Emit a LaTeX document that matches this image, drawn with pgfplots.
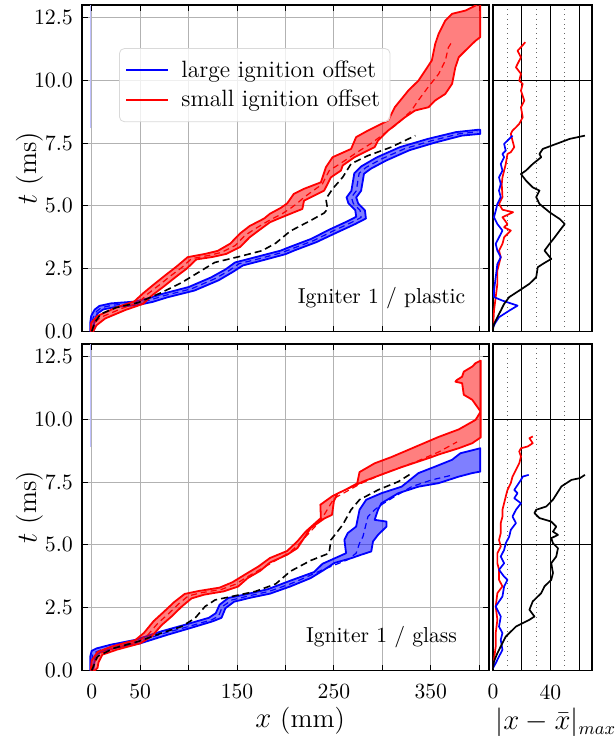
\documentclass[border=0pt]{standalone}
\usepackage{pgfplots}
\pgfplotsset{compat=1.18}
\usepackage{pgfplotstable}

% ---------------- Igniter 1 / plastic ----------------
% flame-front envelope (left edge upwards, right edge downwards)
\pgfplotstableread{
x t
-1.5 0
-1.5 0.35
-0.5 0.62
3 0.87
8 1.02
20 1.12
44 1.19
58 1.32
73 1.5
100 1.77
123 2.15
138 2.47
148 2.75
170 2.97
195 3.22
204 3.36
226 3.68
246 4.07
264 4.39
273 4.57
272 4.83
265 5.1
263 5.34
268 5.6
271 6.3
278 6.57
294 6.93
318 7.34
347 7.67
376 7.94
398 8.03
401 8.03
401 7.87
382 7.8
355 7.53
328 7.22
304 6.81
288 6.48
281 6.28
278 5.6
273 5.34
275 5.1
282 4.82
283 4.5
272 4.28
254 3.96
232 3.56
210 3.24
200 3.08
176 2.83
156 2.63
146 2.38
131 2.04
106 1.63
78 1.36
63 1.18
47 1.05
25 0.98
12 0.88
6 0.72
3 0.45
2 0.1
1.5 0
-1.5 0
}\plBlueBand
\pgfplotstableread{
x t
0 0
0.3 0.3
1.5 0.55
5 0.8
10 0.95
22 1.05
45 1.12
60 1.25
75 1.43
103 1.7
127 2.1
142 2.43
152 2.7
173 2.9
197 3.15
207 3.3
229 3.62
250 4.02
268 4.34
278 4.54
277 4.82
270 5.1
268 5.34
273 5.6
276 6.3
283 6.53
299 6.87
323 7.28
351 7.6
379 7.87
398 7.95
}\plBlueMean
\pgfplotstableread{
x t
-1 0
-0.5 0.35
6 0.62
26 0.97
44 1.2
53 1.52
64 1.87
77 2.27
88 2.6
99 2.96
117 3.09
130 3.21
143 3.5
153 3.9
163 4.2
178 4.5
184 4.69
195 4.92
201.7 5.1
208.6 5.48
219 5.68
236.5 5.94
241.7 6.54
248.6 6.94
267.7 7.27
272.9 7.74
285 8.0
295.5 8.2
305.9 8.4
312.8 8.93
326.7 9.59
337.2 9.99
351 10.79
354.5 11.45
358 11.85
364.9 12.38
371.9 12.65
385.8 12.78
396.2 12.98
401 13.2
401 11.72
396.2 11.58
385.8 11.19
378.8 10.92
375.3 10.52
371.9 9.86
364.9 9.46
354.5 9.2
347.6 8.93
333.7 8.8
323.3 8.53
305.9 8.0
295.5 7.6
292 7.34
271.2 6.94
259 6.61
257.3 6.41
246.9 6.14
239.9 5.61
219.1 5.21
217.4 4.88
205.2 4.69
190 4.45
184 4.35
173 4.04
163 3.75
153 3.36
139 3.09
125 2.97
108 2.87
98 2.5
87 2.18
74 1.78
63 1.46
53 1.1
35 0.86
14 0.52
5 0.25
1.5 0
-1 0
}\plRedBand
\pgfplotstableread{
x t
0 0
2 0.3
9 0.56
30 0.9
48 1.15
58 1.5
69 1.83
82 2.23
93 2.55
103 2.9
121 3.03
134 3.15
148 3.42
158 3.82
169 4.1
183 4.42
197 4.7
205 4.9
212 5.1
219 5.34
238 5.87
245 6.4
261 6.8
274 7.14
288 7.48
302 7.88
316 8.28
330 8.8
337 9.2
347 9.72
358 10.25
365 10.79
368 11.3
372 11.55
}\plRedMean
\pgfplotstableread{
x t
0 0
3 0.35
9.4 0.7
25 0.95
48 1.15
72 1.55
93 1.95
110 2.35
127 2.75
152 2.98
176 3.22
190 3.52
205 4.0
226 4.42
240 4.72
243.4 4.88
241.7 5.28
248.6 5.68
259 6.14
267.7 6.68
285 7.0
309 7.34
334 7.8
}\plMean
% maximum deviation from the mean front
\pgfplotstableread{
v t
0 0.1
0.2 0.3
0.7 0.83
1.9 1.37
3.05 1.9
3.05 2.43
5.4 2.96
4.2 3.22
6.6 3.49
7.75 3.75
12.4 4.02
7.75 4.15
10.1 4.28
6.6 4.55
14 4.75
6.6 4.85
4.2 5.08
6.6 5.35
6.1 5.88
6.6 6.14
7.75 6.41
8.9 6.67
10.1 7.07
12.4 7.14
14.8 7.34
13.6 7.6
12.4 7.87
13.6 8.0
16 8.13
18.3 8.27
20.7 8.53
19.5 8.93
21.8 9.19
19.5 9.59
20.7 9.86
18.3 9.99
19.5 10.26
16 10.52
17.1 10.65
19.5 10.92
17.1 11.18
19.5 11.32
22.5 11.52
}\plRedDev
\pgfplotstableread{
v t
0 0.17
1.9 0.37
4.2 0.57
11.3 0.83
17.1 1.03
6.6 1.23
0.7 1.37
0.7 1.63
1.9 2.16
3.05 2.69
5.4 2.96
3.05 3.22
1.9 3.49
4.2 3.75
6.6 4.02
3.05 4.28
0.7 4.55
1.9 4.81
3.05 5.08
5.4 5.35
4.2 5.61
5.4 5.88
4.2 6.14
6.6 6.41
5.4 6.67
7.75 6.94
6.6 7.07
8.9 7.2
7.75 7.47
13.6 7.8
}\plBlueDev
\pgfplotstableread{
v t
0 0.1
0.7 0.3
3.05 0.57
5.4 0.83
7.75 1.1
11.3 1.37
18.3 1.63
25.4 1.9
30.1 2.16
31.2 2.56
34.7 2.69
40.6 2.89
35.9 3.22
39.4 3.49
43 3.75
46.5 4.02
50 4.28
46.5 4.48
39.4 4.75
32.4 5.08
30.1 5.35
32.4 5.61
27.7 5.74
23 6.01
19.5 6.27
23 6.41
27.7 6.67
33.6 6.94
32.4 7.07
34.7 7.27
44.1 7.47
53.5 7.67
64.1 7.8
}\plBlackDev

% ---------------- Igniter 1 / glass ----------------
\pgfplotstableread{
x t
-1.5 0
-1.5 0.55
0 0.78
5 0.88
20 1.03
45 1.22
72 1.56
97 1.83
121 2.1
128 2.28
132 2.62
141 2.89
160 3.04
182 3.24
205.2 3.58
229.5 3.92
238.2 4.25
262.5 4.67
260.8 5.2
264.2 5.47
272.9 5.73
276.4 6.4
283.3 6.8
299 7.06
319.8 7.32
337.2 7.86
354.5 8.12
371.9 8.39
380.5 8.65
401 8.85
401 7.92
392.7 7.86
378.8 7.72
358 7.46
337.2 7.32
316.4 7.06
299 6.66
295.5 6.4
292 6.0
304.2 5.93
304.2 5.73
295.5 5.4
290.3 5.14
288.5 4.74
278.1 4.61
267.7 4.47
250.3 4.28
239.9 4.01
226 3.68
205.2 3.35
184 3.06
164 2.9
147 2.74
138 2.48
134 2.1
125 1.96
101 1.68
78 1.42
50 1.08
25 0.9
10 0.75
4 0.6
2 0.1
1 0
-1.5 0
}\glBlueBand
\pgfplotstableread{
x t
0 0
0.5 0.4
1 0.68
9.4 0.82
23 0.96
47.6 1.15
75.3 1.49
99.7 1.75
124 2.02
131 2.17
135 2.55
144.8 2.81
162 2.97
183 3.15
205 3.45
215.6 3.62
236.5 3.98
264.2 4.41
272.9 4.67
276.4 5.07
279.9 5.33
285.1 6.13
292 6.4
299 6.6
312.8 6.93
330.2 7.32
351 7.59
372 7.78
}\glBlueMean
\pgfplotstableread{
x t
-1 0
0 0.4
6 0.74
21 0.96
45 1.21
54 1.5
64 1.97
74 2.32
85 2.72
96 3.05
111 3.17
132 3.3
145 3.51
159 3.84
172 4.14
184 4.48
201.7 4.76
212.2 5.14
220.8 5.53
236.5 6.07
236 6.6
248.6 6.95
262 7.2
274 7.45
276.4 7.9
292 8.25
309.4 8.5
333.7 8.9
358 9.3
378.8 9.6
396.2 9.98
401.4 10.31
392.7 10.78
384 10.98
382.3 11.44
375.3 11.5
377 11.57
382.3 11.7
384 11.9
392.7 12.1
396.2 12.24
401.4 12.34
401.4 9.28
392.7 9.05
378.8 8.85
358 8.6
351 8.5
320 8.1
299 7.8
281.6 7.55
267.7 7.3
253.8 7.05
250 6.75
248 6.2
240 6.05
226 5.67
219.1 5.27
212.2 4.87
201.7 4.61
184 4.3
174 3.97
161 3.68
151 3.34
136 3.15
116 3.02
103 2.87
93 2.55
83 2.17
72 1.8
62 1.36
50 1.08
26 0.83
11 0.63
7 0.32
6 0.1
3 0
-1 0
}\glRedBand
\pgfplotstableread{
x t
0 0
2 0.3
9.4 0.69
23 0.89
47.6 1.15
58 1.42
68.4 1.89
78.8 2.24
89.3 2.64
99.7 2.97
113.5 3.1
134 3.23
148 3.43
162 3.76
176 4.07
193 4.45
205 4.72
213 5.0
222.6 5.4
236.5 5.98
243 6.4
250 6.85
264 7.15
278 7.45
302 7.85
334 8.3
358 8.7
377 9.1
}\glRedMean
\pgfplotstableread{
x t
0 0
5.9 0.56
23 0.89
47.6 1.15
72 1.49
92.7 1.75
106.6 2.08
117 2.55
127.4 2.81
144.8 2.95
169 3.15
190 3.45
205 3.95
226 4.38
245 4.67
246.9 5.2
259 5.8
267.7 6.4
276.4 6.8
295.5 7.19
316.4 7.52
328 7.8
}\glMean
\pgfplotstableread{
v t
0 0.1
0.7 0.43
1.9 0.96
1.9 1.49
3.05 2.02
1.9 2.55
3.05 3.08
6.6 3.35
4.2 3.61
4.2 4.01
3.05 4.27
3.05 4.67
5.4 4.94
4.2 5.2
5.4 5.47
5.4 5.87
6.6 6.13
6.6 6.4
7.75 6.66
8.9 6.93
10.1 7.19
12.4 7.46
13.6 7.72
16 7.99
18.3 8.25
19.5 8.52
18.3 8.72
19.5 8.85
24.2 8.92
27.7 9.05
25.4 9.25
27.7 9.32
}\glRedDev
\pgfplotstableread{
v t
0 0.1
1.9 0.29
4.2 0.56
6.6 0.82
5.4 1.22
6.6 1.49
4.2 1.75
5.4 2.15
1.9 2.55
6.6 2.95
7.75 3.35
10.1 3.61
7.75 3.74
4.2 4.01
7.75 4.27
5.4 4.54
7.75 4.8
8.9 5.07
11.3 5.33
12.4 5.6
16 5.87
13.6 6.13
16 6.4
19.5 6.66
14.8 6.86
17.1 7.06
14.8 7.19
19.5 7.59
20.7 7.72
24.9 7.79
}\glBlueDev
\pgfplotstableread{
v t
0 0.1
0.7 0.36
3.05 0.69
5.4 0.96
8.9 1.35
16 1.75
25.4 2.02
28.9 2.15
25.4 2.42
27.7 2.75
33.6 3.08
35.9 3.35
40.6 3.61
41.8 3.88
40.6 4.27
44.1 4.54
45.3 4.87
41.8 5.07
40.6 5.27
45.3 5.4
41.8 5.53
44.1 5.73
40.6 5.93
32.4 6.07
28.9 6.27
30.1 6.4
37.1 6.53
41.8 6.8
47.7 7.33
54.7 7.59
60.6 7.66
64.1 7.79
}\glBlackDev

\pgfplotsset{
  frontax/.style={
    scale only axis, width=203.5pt, height=163.25pt,
    xmin=-10, xmax=410, ymin=0, ymax=13,
    xtick={0,50,...,400},
    ytick={0,2.5,5,7.5,10,12.5},
    grid=major, major grid style={black!30, line width=0.45pt},
    tick align=inside, major tick length=3pt,
    axis line style={line width=0.8pt},
    every tick/.style={black, line width=0.5pt},
    tick label style={font=\fontsize{10.8}{12}\selectfont},
    xticklabel style={yshift=-3.5pt},
    yticklabel style={/pgf/number format/.cd, fixed, fixed zerofill, precision=1, /tikz/.cd, xshift=-1pt},
    label style={font=\fontsize{13.5}{16}\selectfont, inner sep=1pt},
    ylabel={$t$ (ms)},
    ylabel style={at={(axis description cs:-0.128,0.5)}, anchor=center},
  },
  devax/.style={
    scale only axis, width=49.5pt, height=163.25pt,
    xmin=0, xmax=69, ymin=0, ymax=13,
    xtick={0,20,40,60}, minor xtick={10,30,50},
    ytick={0,5,10}, yticklabels={},
    grid=both,
    major grid style={black, line width=0.45pt},
    minor grid style={black!60, dotted, line width=0.45pt},
    major tick length=0pt, minor tick length=0pt,
    axis line style={line width=0.8pt},
    tick label style={font=\fontsize{10.8}{12}\selectfont},
    xticklabel style={yshift=-3.5pt},
    label style={font=\fontsize{13.5}{16}\selectfont, inner sep=1pt},
  },
  band/.style={#1, line width=0.9pt, line join=round, fill=#1, fill opacity=0.5, forget plot},
  meanline/.style={#1, line width=0.6pt, dash pattern=on 3pt off 2pt, forget plot},
  devline/.style={#1, line width=0.85pt, line join=round, forget plot},
}

\begin{document}
\begin{tikzpicture}
\path[use as bounding box] (0pt,0pt) rectangle (307.5pt,-368pt);

% ---- top: plastic ----
\begin{axis}[frontax, at={(41pt,-2.5pt)}, anchor=north west, xticklabels={},
  legend style={at={(axis description cs:0.091,0.868)}, anchor=north west,
    draw=black!15, rounded corners=2.5pt, fill=white, fill opacity=0.8, text opacity=1,
    font=\fontsize{11.8}{13}\selectfont, inner xsep=3pt, inner ysep=4pt, row sep=1pt,
    /tikz/every odd column/.append style={column sep=4pt}},
  legend cell align=left,
  legend image code/.code={\draw[#1, line width=1pt] (0pt,0pt) -- (21pt,0pt);}]
\addplot[blue!25, line width=0.35pt, forget plot] coordinates {(-1.5,8.1) (-1.5,13)};
\addplot[band=blue] table[x=x, y=t] {\plBlueBand};
\addplot[meanline=blue] table[x=x, y=t] {\plBlueMean};
\addplot[band=red] table[x=x, y=t] {\plRedBand};
\addplot[meanline=red] table[x=x, y=t] {\plRedMean};
\addplot[black, line width=0.8pt, dash pattern=on 3.5pt off 2pt, forget plot] table[x=x, y=t] {\plMean};
\addlegendimage{blue}
\addlegendentry{large ignition offset}
\addlegendimage{red}
\addlegendentry{small ignition offset}
\node[font=\fontsize{10.8}{12}\selectfont] at (rel axis cs:0.736,0.101) {Igniter 1 / plastic};
\end{axis}

\begin{axis}[devax, at={(246.5pt,-2.5pt)}, anchor=north west, xticklabels={}]
\addplot[devline=red] table[x=v, y=t] {\plRedDev};
\addplot[devline=blue] table[x=v, y=t] {\plBlueDev};
\addplot[devline=black] table[x=v, y=t] {\plBlackDev};
\end{axis}

% ---- bottom: glass ----
\begin{axis}[frontax, at={(41pt,-172pt)}, anchor=north west,
  xticklabels={0,50,,150,,250,,350,},
  xlabel={$x$ (mm)},
  xlabel style={at={(axis description cs:0.536,-0.155)}, anchor=center}]
\addplot[blue!25, line width=0.35pt] coordinates {(-1.5,8.9) (-1.5,13)};
\addplot[band=blue] table[x=x, y=t] {\glBlueBand};
\addplot[meanline=blue] table[x=x, y=t] {\glBlueMean};
\addplot[band=red] table[x=x, y=t] {\glRedBand};
\addplot[meanline=red] table[x=x, y=t] {\glRedMean};
\addplot[black, line width=0.8pt, dash pattern=on 3.5pt off 2pt] table[x=x, y=t] {\glMean};
\node[font=\fontsize{10.8}{12}\selectfont] at (rel axis cs:0.736,0.101) {Igniter 1 / glass};
\end{axis}

\begin{axis}[devax, at={(246.5pt,-172pt)}, anchor=north west,
  xticklabels={0,,40,},
  xlabel={$|x-\bar{x}|_{max}$},
  xlabel style={at={(axis description cs:0.0,-0.16)}, anchor=west}]
\addplot[devline=red] table[x=v, y=t] {\glRedDev};
\addplot[devline=blue] table[x=v, y=t] {\glBlueDev};
\addplot[devline=black] table[x=v, y=t] {\glBlackDev};
\end{axis}
\end{tikzpicture}
\end{document}
